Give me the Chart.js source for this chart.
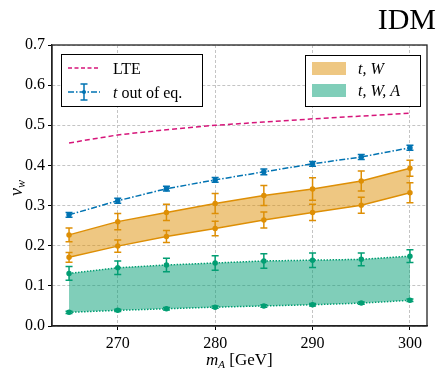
<!DOCTYPE html>
<html>
<head>
<meta charset="utf-8">
<script src="https://cdn.jsdelivr.net/npm/chart.js@4.4.1/dist/chart.umd.min.js"></script>
<style>
  html, body { margin: 0; padding: 0; background: #fff; }
  #wrap { width: 437px; height: 370px; position: relative; }
</style>
</head>
<body>
<div id="wrap"><canvas id="chart"></canvas></div>
<script>
// data
var masses = [265, 270, 275, 280, 285, 290, 295, 300];
var lte = [0.456, 0.476, 0.489, 0.500, 0.508, 0.516, 0.523, 0.530];
var outEq = [0.277, 0.312, 0.342, 0.364, 0.384, 0.404, 0.421, 0.444];
var outEqErr = [0.006, 0.006, 0.006, 0.006, 0.007, 0.006, 0.006, 0.006];
var tWUp = [0.227, 0.260, 0.283, 0.305, 0.325, 0.341, 0.361, 0.393];
var tWUpErr = [0.017, 0.020, 0.020, 0.025, 0.025, 0.028, 0.025, 0.020];
var tWLo = [0.171, 0.199, 0.223, 0.243, 0.264, 0.283, 0.301, 0.332];
var tWLoErr = [0.012, 0.015, 0.015, 0.018, 0.020, 0.020, 0.020, 0.025];
var tWAUp = [0.131, 0.145, 0.152, 0.157, 0.162, 0.164, 0.166, 0.174];
var tWAUpErr = [0.017, 0.017, 0.017, 0.018, 0.018, 0.018, 0.016, 0.016];
var tWALo = [0.034, 0.039, 0.043, 0.047, 0.050, 0.053, 0.057, 0.064];
var tWALoErr = [0.003, 0.003, 0.003, 0.003, 0.003, 0.003, 0.003, 0.003];
var xTicks = [270, 280, 290, 300];
var yTicks = [0, 0.1, 0.2, 0.3, 0.4, 0.5, 0.6, 0.7];

var blue = "#0173b2", orange = "#de8f05", green = "#029e73", pink = "#d6157a";
var serif = "'Liberation Serif', 'DejaVu Serif', serif";

function pts(vals) {
  return vals.map(function (v, i) { return { x: masses[i], y: v }; });
}

// error bars drawn through the scales
var errorBars = {
  id: "errorBars",
  afterDatasetsDraw: function (chart) {
    var ctx = chart.ctx, xs = chart.scales.x, ys = chart.scales.y;
    chart.data.datasets.forEach(function (ds) {
      if (!ds.err) return;
      ctx.save();
      ctx.strokeStyle = ds.borderColor;
      ctx.lineWidth = 1.5;
      ds.data.forEach(function (p, i) {
        var px = xs.getPixelForValue(p.x);
        var y1 = ys.getPixelForValue(p.y - ds.err[i]);
        var y2 = ys.getPixelForValue(p.y + ds.err[i]);
        ctx.beginPath();
        ctx.moveTo(px, y1); ctx.lineTo(px, y2);
        ctx.moveTo(px - 3.5, y1); ctx.lineTo(px + 3.5, y1);
        ctx.moveTo(px - 3.5, y2); ctx.lineTo(px + 3.5, y2);
        ctx.stroke();
      });
      ctx.restore();
    });
  }
};

// frame, labels, title and both legends
var decor = {
  id: "decor",
  afterDraw: function (chart) {
    var ctx = chart.ctx, a = chart.chartArea;
    ctx.save();
    ctx.strokeStyle = "#222";
    ctx.lineWidth = 1.3;
    ctx.strokeRect(a.left, a.top, a.right - a.left, a.bottom - a.top);

    ctx.fillStyle = "#000";
    ctx.textBaseline = "alphabetic";
    ctx.font = "30px " + serif;
    ctx.textAlign = "right";
    ctx.fillText("IDM", 436, 29);

    // x label
    ctx.textAlign = "left";
    ctx.font = "italic 17px " + serif;
    var xl = 206;
    ctx.fillText("m", xl, 365);
    var mw = ctx.measureText("m").width;
    ctx.font = "italic 11px " + serif;
    ctx.fillText("A", xl + mw, 368);
    var aw = ctx.measureText("A").width;
    ctx.font = "17px " + serif;
    ctx.fillText(" [GeV]", xl + mw + aw, 365);

    // y label
    ctx.save();
    ctx.translate(22, 196);
    ctx.rotate(-Math.PI / 2);
    ctx.font = "italic 18px " + serif;
    ctx.fillText("v", 0, 0);
    var vw = ctx.measureText("v").width;
    ctx.font = "italic 12px " + serif;
    ctx.fillText("w", vw, 3);
    ctx.restore();

    // legend left
    ctx.fillStyle = "#fff";
    ctx.strokeStyle = "#000";
    ctx.lineWidth = 1;
    ctx.fillRect(61, 54, 141, 52);
    ctx.strokeRect(61.5, 54.5, 141, 52);
    ctx.strokeStyle = pink;
    ctx.lineWidth = 1.5;
    ctx.setLineDash([4, 2.5]);
    ctx.beginPath(); ctx.moveTo(68, 68); ctx.lineTo(100, 68); ctx.stroke();
    ctx.strokeStyle = blue;
    ctx.setLineDash([6, 2, 1.5, 2]);
    ctx.beginPath(); ctx.moveTo(68, 92); ctx.lineTo(100, 92); ctx.stroke();
    ctx.setLineDash([]);
    ctx.beginPath();
    ctx.moveTo(84, 84); ctx.lineTo(84, 100);
    ctx.moveTo(80.5, 84); ctx.lineTo(87.5, 84);
    ctx.moveTo(80.5, 100); ctx.lineTo(87.5, 100);
    ctx.stroke();
    ctx.fillStyle = blue;
    ctx.beginPath(); ctx.arc(84, 92, 2, 0, Math.PI * 2); ctx.fill();
    ctx.fillStyle = "#000";
    ctx.font = "16px " + serif;
    ctx.fillText("LTE", 113, 74);
    ctx.font = "italic 16px " + serif;
    ctx.fillText("t", 113, 98);
    var tw = ctx.measureText("t").width;
    ctx.font = "16px " + serif;
    ctx.fillText(" out of eq.", 113 + tw, 98);

    // legend right
    ctx.fillStyle = "#fff";
    ctx.fillRect(305, 55, 115, 51);
    ctx.strokeStyle = "#000";
    ctx.lineWidth = 1;
    ctx.strokeRect(305.5, 55.5, 115, 51);
    ctx.fillStyle = "rgba(222,143,5,0.5)";
    ctx.fillRect(312, 62, 34, 13);
    ctx.fillStyle = "rgba(2,158,115,0.5)";
    ctx.fillRect(312, 84, 34, 13);
    ctx.fillStyle = "#000";
    ctx.font = "italic 16px " + serif;
    ctx.fillText("t, W", 358, 74);
    ctx.fillText("t, W, A", 358, 96);
    ctx.restore();
  }
};

new Chart(document.getElementById("chart"), {
  type: "line",
  data: {
    datasets: [
      { label: "LTE", data: pts(lte), borderColor: pink, borderWidth: 1.5,
        borderDash: [5, 3], pointRadius: 0, fill: false },
      { label: "t out of eq.", data: pts(outEq), err: outEqErr, borderColor: blue,
        backgroundColor: blue, borderWidth: 1.5, borderDash: [6, 2, 1.5, 2],
        pointRadius: 2, fill: false },
      { label: "t,W up", data: pts(tWUp), err: tWUpErr, borderColor: orange,
        backgroundColor: "rgba(222,143,5,0.5)", pointBackgroundColor: orange,
        borderWidth: 1.5, pointRadius: 2, fill: "+1" },
      { label: "t,W lo", data: pts(tWLo), err: tWLoErr, borderColor: orange,
        backgroundColor: orange, borderWidth: 1.5, pointRadius: 2, fill: false },
      { label: "t,W,A up", data: pts(tWAUp), err: tWAUpErr, borderColor: green,
        backgroundColor: "rgba(2,158,115,0.5)", pointBackgroundColor: green,
        borderWidth: 1.5, borderDash: [1.5, 1.5], pointRadius: 2, fill: "+1" },
      { label: "t,W,A lo", data: pts(tWALo), err: tWALoErr, borderColor: green,
        backgroundColor: green, borderWidth: 1.5, borderDash: [1.5, 1.5],
        pointRadius: 2, fill: false }
    ]
  },
  options: {
    responsive: true,
    maintainAspectRatio: false,
    animation: false,
    layout: { padding: { top: 45, right: 10, left: 0, bottom: 0 } },
    plugins: { legend: { display: false }, tooltip: { enabled: false } },
    elements: { line: { tension: 0 } },
    scales: {
      x: {
        type: "linear", min: 263.25, max: 301.75,
        afterBuildTicks: function (s) { s.ticks = xTicks.map(function (v) { return { value: v }; }); },
        afterFit: function (s) { s.height = 44; },
        grid: { color: "#c4c4c4", tickColor: "#000", tickLength: 4, drawOnChartArea: true },
        border: { display: true, color: "#222", width: 1.3, dash: [3, 2] },
        ticks: { color: "#000", font: { family: serif, size: 16 }, padding: 4, maxRotation: 0 }
      },
      y: {
        min: 0, max: 0.7,
        afterBuildTicks: function (s) { s.ticks = yTicks.map(function (v) { return { value: v }; }); },
        afterFit: function (s) { s.width = 52; },
        grid: { color: "#c4c4c4", tickColor: "#000", tickLength: 4 },
        border: { display: true, color: "#222", width: 1.3, dash: [3, 2] },
        ticks: { color: "#000", font: { family: serif, size: 16 }, padding: 3,
          callback: function (v) { return Number(v).toFixed(1); } }
      }
    }
  },
  plugins: [errorBars, decor]
});
</script>
</body>
</html>
